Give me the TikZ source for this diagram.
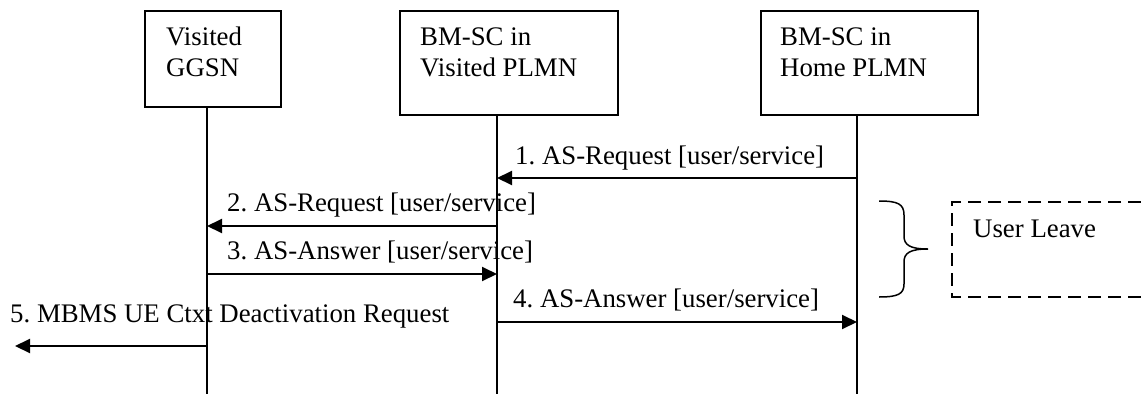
\documentclass[tikz,border=0pt]{standalone}
\usepackage{fontspec}
\setmainfont{Liberation Serif}
\usetikzlibrary{arrows.meta}
\frenchspacing
\begin{document}
\begin{tikzpicture}[x=1pt,y=-1pt,
  entity/.style={draw,line width=2pt,anchor=north west,inner sep=0pt},
  boxtext/.style={anchor=base west,align=left,inner sep=0pt,font=\fontsize{26.8}{31}\selectfont},
  msgtext/.style={anchor=base west,inner sep=0pt,font=\fontsize{26.8}{31}\selectfont},
  life/.style={line width=1.5pt},
  msg/.style={line width=2pt,-{Triangle[length=15pt,width=14pt]}},
  dashedbox/.style={line width=1.5pt,dash pattern=on 13pt off 7pt},
  bracepath/.style={line width=1.5pt}
]
\useasboundingbox (0,0) rectangle (1141,394);
% entity boxes
\node[entity,minimum width=136pt,minimum height=96pt] (b1) at (144,10) {};
\node[entity,minimum width=218pt,minimum height=104pt] (b2) at (399,10) {};
\node[entity,minimum width=217pt,minimum height=104pt] (b3) at (760,10) {};
\node[boxtext] (t1) at (166,76) {Visited\\GGSN};
\node[boxtext] (t2) at (420,76) {BM-SC in\\Visited PLMN};
\node[boxtext] (t3) at (780,76) {BM-SC in\\Home PLMN};
% lifelines
\coordinate (l1top) at (207,106);
\coordinate (l2top) at (497,114);
\coordinate (l3top) at (857,114);
\coordinate (l1bot) at (207,394);
\coordinate (l2bot) at (497,394);
\coordinate (l3bot) at (857,394);
\draw[life] (l1top) -- (l1bot);
\draw[life] (l2top) -- (l2bot);
\draw[life] (l3top) -- (l3bot);
% message points
\coordinate (m1a) at (857,178); \coordinate (m1b) at (497,178);
\coordinate (m2a) at (497,226); \coordinate (m2b) at (207,226);
\coordinate (m3a) at (207,274); \coordinate (m3b) at (497,274);
\coordinate (m4a) at (497,322); \coordinate (m4b) at (857,322);
\coordinate (m5a) at (207,346); \coordinate (m5b) at (15,346);
\draw[msg] (m1a) -- (m1b);
\draw[msg] (m2a) -- (m2b);
\draw[msg] (m3a) -- (m3b);
\draw[msg] (m4a) -- (m4b);
\draw[msg] (m5a) -- (m5b);
\node[msgtext] (n1) at (515,164) {1. AS-Request [user/service]};
\node[msgtext] (n2) at (227,211) {2. AS-Request [user/service]};
\node[msgtext] (n3) at (227,259) {3. AS-Answer [user/service]};
\node[msgtext] (n4) at (513,307) {4. AS-Answer [user/service]};
\node[msgtext] (n5) at (10,322) {5. MBMS UE Ctxt Deactivation Request};
% brace
\draw[bracepath] (879,201) .. controls (898,201) and (904,204) .. (904,215) -- (904,236)
  .. controls (904,245) and (910,249) .. (928,249)
  .. controls (910,249) and (904,253) .. (904,262) -- (904,284)
  .. controls (904,294) and (898,297) .. (879,297);
% dashed user leave box (open to the right edge)
\draw[dashedbox] (1141,202) -- (952,202) -- (952,297) -- (1141,297);
\node[msgtext] (ul) at (973,237) {User Leave};
\end{tikzpicture}
\end{document}
